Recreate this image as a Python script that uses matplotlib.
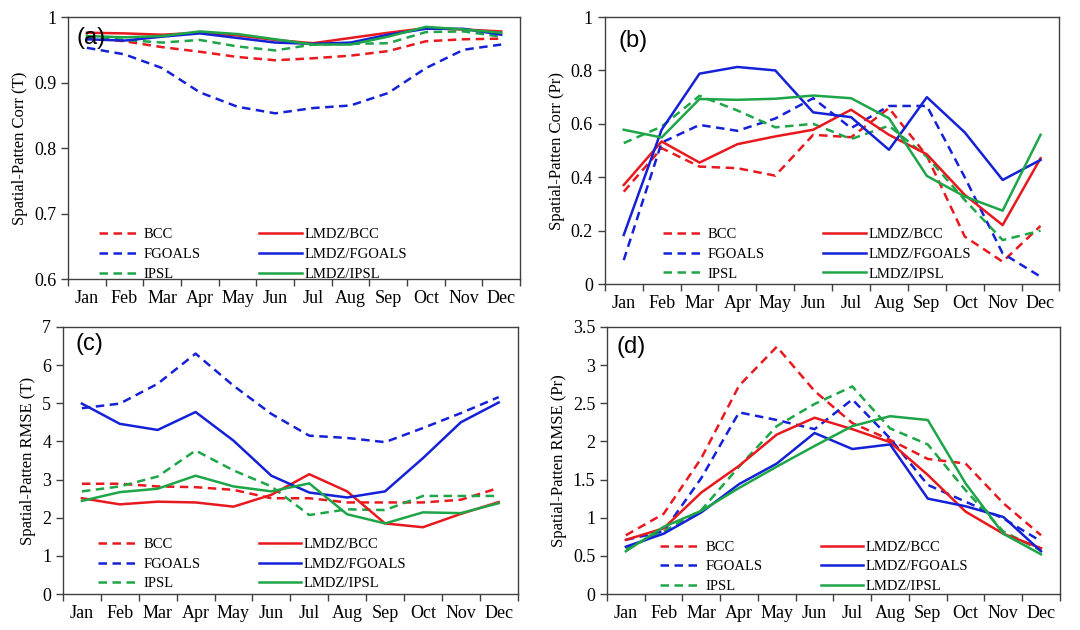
import matplotlib
matplotlib.use("Agg")
import matplotlib.pyplot as plt
from matplotlib.ticker import FuncFormatter, FixedLocator
import numpy as np

months = ["Jan", "Feb", "Mar", "Apr", "May", "Jun", "Jul", "Aug", "Sep", "Oct", "Nov", "Dec"]
series_names = ["BCC", "FGOALS", "IPSL", "LMDZ/BCC", "LMDZ/FGOALS", "LMDZ/IPSL"]

# (a) Spatial pattern correlation, temperature
a_bcc = [0.968, 0.963, 0.954, 0.947, 0.939, 0.934, 0.937, 0.941, 0.948, 0.963, 0.966, 0.967]
a_fgoals = [0.953, 0.943, 0.922, 0.885, 0.863, 0.853, 0.861, 0.865, 0.884, 0.922, 0.950, 0.958]
a_ipsl = [0.970, 0.965, 0.961, 0.965, 0.955, 0.949, 0.958, 0.959, 0.960, 0.977, 0.978, 0.970]
a_lmdz_bcc = [0.976, 0.975, 0.973, 0.976, 0.972, 0.965, 0.960, 0.968, 0.976, 0.983, 0.981, 0.978]
a_lmdz_fgoals = [0.966, 0.964, 0.970, 0.975, 0.968, 0.961, 0.959, 0.961, 0.973, 0.982, 0.982, 0.973]
a_lmdz_ipsl = [0.971, 0.969, 0.971, 0.978, 0.974, 0.966, 0.958, 0.958, 0.970, 0.985, 0.981, 0.976]

# (b) Spatial pattern correlation, precipitation
b_bcc = [0.346, 0.509, 0.440, 0.434, 0.406, 0.559, 0.550, 0.659, 0.480, 0.178, 0.084, 0.218]
b_fgoals = [0.090, 0.530, 0.596, 0.574, 0.620, 0.696, 0.584, 0.667, 0.667, 0.400, 0.115, 0.028]
b_ipsl = [0.528, 0.590, 0.705, 0.650, 0.587, 0.600, 0.543, 0.593, 0.477, 0.315, 0.165, 0.200]
b_lmdz_bcc = [0.371, 0.534, 0.455, 0.524, 0.553, 0.578, 0.653, 0.559, 0.486, 0.334, 0.221, 0.471]
b_lmdz_fgoals = [0.184, 0.578, 0.788, 0.813, 0.800, 0.643, 0.625, 0.503, 0.700, 0.568, 0.390, 0.465]
b_lmdz_ipsl = [0.578, 0.549, 0.693, 0.690, 0.694, 0.706, 0.696, 0.621, 0.405, 0.328, 0.275, 0.559]

# (c) Spatial pattern RMSE, temperature
c_bcc = [2.89, 2.89, 2.82, 2.80, 2.73, 2.51, 2.51, 2.40, 2.40, 2.40, 2.47, 2.78]
c_fgoals = [4.87, 4.99, 5.51, 6.30, 5.46, 4.72, 4.15, 4.09, 3.98, 4.35, 4.74, 5.16]
c_ipsl = [2.69, 2.82, 3.08, 3.76, 3.24, 2.82, 2.07, 2.22, 2.20, 2.57, 2.57, 2.57]
c_lmdz_bcc = [2.51, 2.35, 2.42, 2.40, 2.29, 2.60, 3.14, 2.69, 1.85, 1.75, 2.10, 2.41]
c_lmdz_fgoals = [4.99, 4.46, 4.30, 4.77, 4.02, 3.10, 2.66, 2.53, 2.69, 3.56, 4.50, 5.02]
c_lmdz_ipsl = [2.44, 2.67, 2.76, 3.10, 2.82, 2.69, 2.90, 2.09, 1.85, 2.14, 2.12, 2.38]

# (d) Spatial pattern RMSE, precipitation
d_bcc = [0.77, 1.05, 1.78, 2.73, 3.24, 2.66, 2.24, 2.02, 1.77, 1.71, 1.19, 0.77]
d_fgoals = [0.71, 0.82, 1.52, 2.38, 2.28, 2.16, 2.55, 2.04, 1.43, 1.21, 0.99, 0.69]
d_ipsl = [0.59, 0.82, 1.10, 1.67, 2.20, 2.49, 2.72, 2.17, 1.96, 1.36, 0.82, 0.57]
d_lmdz_bcc = [0.71, 0.86, 1.33, 1.68, 2.09, 2.31, 2.16, 1.99, 1.56, 1.08, 0.79, 0.60]
d_lmdz_fgoals = [0.62, 0.79, 1.07, 1.44, 1.71, 2.11, 1.90, 1.96, 1.25, 1.15, 1.01, 0.56]
d_lmdz_ipsl = [0.56, 0.88, 1.09, 1.39, 1.67, 1.94, 2.20, 2.33, 2.28, 1.45, 0.79, 0.52]

RED, BLUE, GREEN = "#E8191E", "#1521D6", "#1DA548"
styles = [(RED, "--"), (BLUE, "--"), (GREEN, "--"), (RED, "-"), (BLUE, "-"), (GREEN, "-")]

panels = [
    dict(rect=[0.063, 0.557, 0.4185, 0.416], data=[a_bcc, a_fgoals, a_ipsl, a_lmdz_bcc, a_lmdz_fgoals, a_lmdz_ipsl],
         ylim=(0.6, 1.0), yticks=[0.6, 0.7, 0.8, 0.9, 1.0], ylabel="Spatial-Patten Corr (T)", tag="(a)",
         tagpos=(0.018, 0.92), leg=(0.045, -0.045)),
    dict(rect=[0.560, 0.549, 0.421, 0.424], data=[b_bcc, b_fgoals, b_ipsl, b_lmdz_bcc, b_lmdz_fgoals, b_lmdz_ipsl],
         ylim=(0.0, 1.0), yticks=[0, 0.2, 0.4, 0.6, 0.8, 1.0], ylabel="Spatial-Patten Corr (Pr)", tag="(b)",
         tagpos=(0.03, 0.91), leg=(0.105, -0.025)),
    dict(rect=[0.0583, 0.0571, 0.421, 0.424], data=[c_bcc, c_fgoals, c_ipsl, c_lmdz_bcc, c_lmdz_fgoals, c_lmdz_ipsl],
         ylim=(0, 7), yticks=[0, 1, 2, 3, 4, 5, 6, 7], ylabel="Spatial-Patten RMSE (T)", tag="(c)",
         tagpos=(0.028, 0.935), leg=(0.055, -0.025)),
    dict(rect=[0.562, 0.0571, 0.4194, 0.424], data=[d_bcc, d_fgoals, d_ipsl, d_lmdz_bcc, d_lmdz_fgoals, d_lmdz_ipsl],
         ylim=(0, 3.5), yticks=[0, 0.5, 1, 1.5, 2, 2.5, 3, 3.5], ylabel="Spatial-Patten RMSE (Pr)", tag="(d)",
         tagpos=(0.022, 0.925), leg=(0.095, -0.035)),
]

fig = plt.figure(figsize=(10.8, 6.3), dpi=100)
serif = "Liberation Serif"
x = np.arange(len(months))

for p in panels:
    ax = fig.add_axes(p["rect"])
    handles = []
    for vals, (col, ls), name in zip(p["data"], styles, series_names):
        ln, = ax.plot(x, vals, color=col, linestyle=ls, linewidth=1.8, label=name)
        if ls == "--":
            ln.set_dashes((3.4, 2.2))
        handles.append(ln)
    ax.set_xlim(-0.5, 11.5)
    ax.set_ylim(*p["ylim"])
    ax.xaxis.set_major_locator(FixedLocator(np.arange(-0.5, 12, 1.0)))
    ax.xaxis.set_minor_locator(FixedLocator(x))
    ax.set_xticklabels([])
    ax.set_xticklabels(months, minor=True)
    ax.tick_params(axis="x", which="major", direction="out", length=5, width=1, color="#404040")
    ax.tick_params(axis="x", which="minor", length=0, pad=8, labelsize=13)
    ax.set_yticks(p["yticks"])
    ax.yaxis.set_major_formatter(FuncFormatter(lambda v, pos: "%g" % round(v, 2)))
    ax.tick_params(axis="y", direction="out", length=5, width=1, labelsize=13, color="#404040")
    for lab in ax.get_xticklabels(minor=True) + ax.get_yticklabels():
        lab.set_fontfamily(serif)
    ax.set_ylabel(p["ylabel"], fontfamily=serif, fontsize=12, labelpad=4)
    for s in ax.spines.values():
        s.set_color("#404040")
        s.set_linewidth(1.0)
    ax.text(p["tagpos"][0], p["tagpos"][1], p["tag"], transform=ax.transAxes, fontfamily="Liberation Sans",
            fontsize=17, va="center", ha="left")
    ax.legend(handles=handles, ncol=2, loc="lower left", bbox_to_anchor=p["leg"], frameon=False,
              prop={"family": serif, "size": 10.5}, handlelength=2.9, handletextpad=0.2,
              columnspacing=4.0, labelspacing=0.45, borderaxespad=0.3)

fig.savefig("out.png", dpi=100)
